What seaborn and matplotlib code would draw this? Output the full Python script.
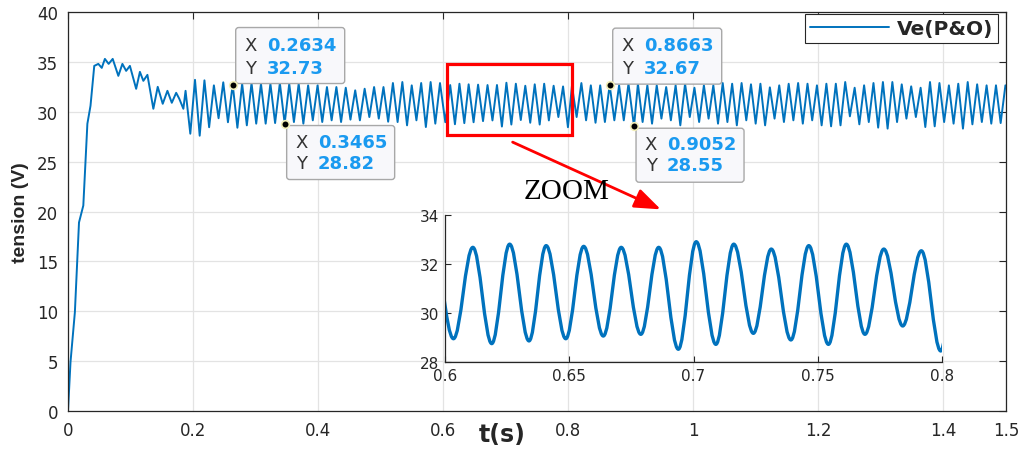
import matplotlib
matplotlib.use("Agg")
import matplotlib.pyplot as plt
import matplotlib.transforms as mtransforms
from matplotlib.patches import Rectangle, FancyBboxPatch, PathPatch
from matplotlib.path import Path
import numpy as np
import pandas as pd
import seaborn as sns

# ─────────────────────────────────────────────
# DATA
# ─────────────────────────────────────────────
# start-up transient, 0 - 0.2 s
t_start = [0.0, 0.004, 0.011, 0.0176, 0.0245, 0.031, 0.036, 0.042, 0.0485, 0.054,
           0.059, 0.065, 0.0715, 0.0805, 0.087, 0.093, 0.099, 0.109, 0.115, 0.1205,
           0.127, 0.1365, 0.1435, 0.1515, 0.159, 0.166, 0.173, 0.178, 0.1845, 0.188,
           0.1956]
v_start = [0.0, 4.9, 9.9, 18.9, 20.6, 28.8, 30.6, 34.6, 34.8, 34.4,
           35.3, 34.8, 35.3, 33.6, 34.8, 34.1, 34.6, 32.3, 34.0, 33.1,
           33.7, 30.3, 32.5, 30.8, 32.1, 30.9, 31.9, 31.3, 30.3, 32.1,
           27.8]

# ripple peaks after 0.2 s
t_peak = [0.2031, 0.2182, 0.2333, 0.2483, 0.2634, 0.2785, 0.2935, 0.3086, 0.3237, 0.3388,
          0.3538, 0.3689, 0.3840, 0.3991, 0.4141, 0.4292, 0.4442, 0.4593, 0.4744, 0.4895,
          0.5045, 0.5196, 0.5347, 0.5497, 0.5648, 0.5799, 0.5949, 0.6112, 0.6260, 0.6407,
          0.6558, 0.6709, 0.6860, 0.7011, 0.7162, 0.7313, 0.7464, 0.7615, 0.7766, 0.7917,
          0.8059, 0.8210, 0.8361, 0.8511, 0.8662, 0.8813, 0.8963, 0.9114, 0.9265, 0.9415,
          0.9566, 0.9717, 0.9868, 1.0018, 1.0169, 1.0320, 1.0470, 1.0621, 1.0772, 1.0922,
          1.1073, 1.1224, 1.1374, 1.1525, 1.1676, 1.1826, 1.1977, 1.2128, 1.2279, 1.2429,
          1.2580, 1.2731, 1.2881, 1.3032, 1.3183, 1.3333, 1.3484, 1.3635, 1.3785, 1.3936,
          1.4087, 1.4237, 1.4388, 1.4539, 1.4690, 1.4840, 1.4991]
v_peak = [33.20, 33.15, 32.65, 32.95, 32.73, 32.81, 32.88, 32.81, 32.81, 32.88,
          32.81, 32.81, 32.65, 32.65, 32.48, 32.48, 32.41, 32.15, 32.31, 32.48,
          32.48, 32.88, 32.98, 32.65, 32.88, 32.98, 32.88, 32.68, 32.81, 32.75,
          32.72, 32.68, 32.68, 32.91, 32.81, 32.61, 32.75, 32.81, 32.61, 32.54,
          32.60, 32.88, 32.65, 32.65, 32.67, 32.65, 32.81, 32.81, 32.65, 32.65,
          32.48, 32.65, 32.81, 32.41, 32.65, 32.65, 32.88, 32.81, 32.88, 32.75,
          32.81, 32.45, 32.65, 32.81, 32.88, 32.81, 32.65, 32.81, 32.81, 32.98,
          32.41, 32.65, 32.88, 32.98, 32.98, 32.75, 32.55, 32.41, 32.98, 32.88,
          32.65, 32.81, 32.98, 32.75, 32.65, 32.65, 32.65]

# ripple troughs after 0.2 s
t_trough = [0.2106, 0.2257, 0.2408, 0.2558, 0.2709, 0.2860, 0.3010, 0.3161, 0.3312, 0.3465,
            0.3613, 0.3764, 0.3915, 0.4066, 0.4216, 0.4367, 0.4517, 0.4668, 0.4819, 0.4970,
            0.5120, 0.5271, 0.5422, 0.5572, 0.5723, 0.5874, 0.6034, 0.6188, 0.6338, 0.6486,
            0.6637, 0.6788, 0.6939, 0.7090, 0.7241, 0.7392, 0.7543, 0.7690, 0.7842, 0.7995,
            0.8134, 0.8285, 0.8436, 0.8586, 0.8737, 0.8888, 0.9052, 0.9189, 0.9340, 0.9490,
            0.9641, 0.9792, 0.9943, 1.0093, 1.0244, 1.0395, 1.0545, 1.0696, 1.0847, 1.0997,
            1.1148, 1.1299, 1.1449, 1.1600, 1.1751, 1.1901, 1.2052, 1.2203, 1.2354, 1.2504,
            1.2655, 1.2806, 1.2956, 1.3107, 1.3258, 1.3408, 1.3559, 1.3710, 1.3860, 1.4011,
            1.4162, 1.4312, 1.4463, 1.4614, 1.4765, 1.4915]
v_trough = [27.60, 28.45, 29.35, 28.95, 28.40, 28.64, 28.81, 28.81, 28.87, 28.82,
            28.97, 28.81, 29.14, 28.97, 29.14, 28.97, 29.21, 29.14, 29.47, 29.31,
            29.00, 28.97, 28.64, 29.14, 28.47, 28.81, 28.95, 28.75, 28.86, 28.95,
            29.06, 29.13, 28.52, 28.72, 29.17, 28.90, 28.72, 29.13, 29.47, 28.45,
            29.47, 29.14, 28.90, 28.97, 29.14, 29.14, 28.55, 28.97, 28.81, 29.31,
            29.14, 28.64, 29.47, 28.97, 29.31, 28.81, 28.97, 28.64, 29.14, 28.81,
            28.64, 29.31, 28.97, 29.14, 28.81, 29.14, 28.64, 28.54, 28.64, 29.54,
            28.74, 28.97, 28.41, 28.31, 28.97, 29.31, 29.47, 28.47, 28.54, 28.97,
            28.81, 28.31, 28.74, 28.97, 28.81, 28.87]

# data tips
tip_x = [0.2634, 0.3465, 0.8663, 0.9052]
tip_y = [32.73, 28.82, 32.67, 28.55]
tip_up = [True, False, True, False]

x_ticks = [0, 0.2, 0.4, 0.6, 0.8, 1.0, 1.2, 1.4, 1.5]
x_ticklabels = ["0", "0.2", "0.4", "0.6", "0.8", "1", "1.2", "1.4", "1.5"]
y_ticks = [0, 5, 10, 15, 20, 25, 30, 35, 40]
in_x_ticks = [0.6, 0.65, 0.7, 0.75, 0.8]
in_x_ticklabels = ["0.6", "0.65", "0.7", "0.75", "0.8"]
in_y_ticks = [28, 30, 32, 34]

BLUE = "#0072BD"
TXT = "#262626"

# ─────────────────────────────────────────────
# build the trace
# ─────────────────────────────────────────────
df = pd.concat([
    pd.DataFrame({"t": t_start, "v": v_start}),
    pd.DataFrame({"t": t_peak, "v": v_peak}),
    pd.DataFrame({"t": t_trough, "v": v_trough}),
]).sort_values("t").reset_index(drop=True)

sns.set_theme(style="white")
plt.rcParams["font.family"] = ["DejaVu Sans"]

fig = plt.figure(figsize=(10.24, 4.52), dpi=100)
ax = fig.add_axes([0.0664, 0.0885, 0.9160, 0.8827])

sns.lineplot(data=df, x="t", y="v", ax=ax, color=BLUE, lw=1.4,
             estimator=None, label="Ve(P&O)")

ax.set_xlim(0, 1.5)
ax.set_ylim(0, 40)
ax.set_xticks(x_ticks)
ax.set_xticklabels(x_ticklabels)
ax.set_yticks(y_ticks)
ax.grid(True, color="#e3e3e3", lw=0.9)
ax.set_axisbelow(True)
for s in ax.spines.values():
    s.set_visible(True); s.set_color(TXT); s.set_linewidth(0.9)
ax.tick_params(direction="in", length=5, width=0.8, top=True, right=True,
               labelsize=12, labelcolor=TXT, color=TXT)
ax.tick_params(axis="x", pad=7)
ax.tick_params(axis="y", pad=7)

ax.set_xlabel("t(s)", fontsize=17, fontweight="bold", color=TXT)
ax.xaxis.set_label_coords(0.463, -0.028)
ax.set_ylabel("tension (V)", fontsize=14, fontweight="bold", color=TXT,
              family=["Liberation Sans", "DejaVu Sans"])
ax.yaxis.set_label_coords(-0.042, 0.5)

leg = ax.legend(loc="upper right", bbox_to_anchor=(0.9915, 0.995), borderaxespad=0,
                fancybox=False, framealpha=1, edgecolor=TXT, handlelength=3.9,
                handletextpad=0.4, borderpad=0.25, prop={"weight": "bold", "size": 14.5})
leg.get_frame().set_linewidth(0.8)

# zoom window + arrow + label
ax.add_patch(Rectangle((0.6056, 27.72), 0.2, 7.02, fill=False, ec="red", lw=2.3, zorder=4))
ax.annotate("", xy=(0.952, 20.1), xytext=(0.707, 27.07),
            arrowprops=dict(arrowstyle="-|>,head_length=0.8,head_width=0.3", color="red",
                            lw=2, mutation_scale=20))
ax.text(0.797, 22.06, "ZOOM", ha="center", va="center", fontsize=21,
        family=["Liberation Serif", "DejaVu Serif"], color="black")

# data tips
for x, y, up in zip(tip_x, tip_y, tip_up):
    off = mtransforms.ScaledTranslation(x, y, ax.transData)
    if up:
        bx, by, bw, bh = 3, 1, 109, 56
        rows = (40, 17)
    else:
        bx, by, bw, bh = 2, -56, 108, 54
        rows = (-18, -39)
    ax.add_patch(FancyBboxPatch((bx, by), bw, bh, boxstyle="round,pad=0,rounding_size=3",
                                transform=off, fc="#f8f8fb", ec="#a8a8a8", lw=1, zorder=6))
    ax.text(bx + 15, rows[0], "X", transform=off, ha="center", va="center",
            fontsize=13, color="#333333", zorder=7)
    ax.text(bx + 15, rows[1], "Y", transform=off, ha="center", va="center",
            fontsize=13, color="#333333", zorder=7)
    ax.text(bx + 31, rows[0], f"{x:.4f}", transform=off, ha="left", va="center",
            fontsize=13, fontweight="bold", color="#1a9af0", zorder=7)
    ax.text(bx + 31, rows[1], f"{y:.2f}", transform=off, ha="left", va="center",
            fontsize=13, fontweight="bold", color="#1a9af0", zorder=7)
    ax.plot([x], [y], "o", color="black", ms=5.5, mec="#f2eeb8", mew=1.2, zorder=8)

# inset: same trace, drawn with smooth (horizontal-tangent) segments between samples
axin = fig.add_axes([0.4346, 0.1969, 0.4853, 0.3252])
axin.set_facecolor("none")
tt = df["t"].to_numpy()
vv = df["v"].to_numpy()
verts = [(tt[0], vv[0])]
codes = [Path.MOVETO]
for i in range(len(tt) - 1):
    dt = tt[i + 1] - tt[i]
    verts += [(tt[i] + 0.363 * dt, vv[i]), (tt[i + 1] - 0.363 * dt, vv[i + 1]),
              (tt[i + 1], vv[i + 1])]
    codes += [Path.CURVE4] * 3
axin.add_patch(PathPatch(Path(verts, codes), fill=False, ec=BLUE, lw=2.4,
                         joinstyle="round", capstyle="round"))
axin.set_xlim(0.6, 0.8)
axin.set_ylim(28, 34)
axin.set_xticks(in_x_ticks)
axin.set_xticklabels(in_x_ticklabels)
axin.set_yticks(in_y_ticks)
axin.grid(False)
for side in ["top", "right"]:
    axin.spines[side].set_visible(False)
for side in ["left", "bottom"]:
    axin.spines[side].set_visible(True)
    axin.spines[side].set_color(TXT)
    axin.spines[side].set_linewidth(0.9)
axin.tick_params(direction="in", length=4, width=0.8, labelsize=11,
                 labelcolor=TXT, color=TXT, left=True, bottom=True, pad=4)

fig.savefig("out.png", dpi=100)
